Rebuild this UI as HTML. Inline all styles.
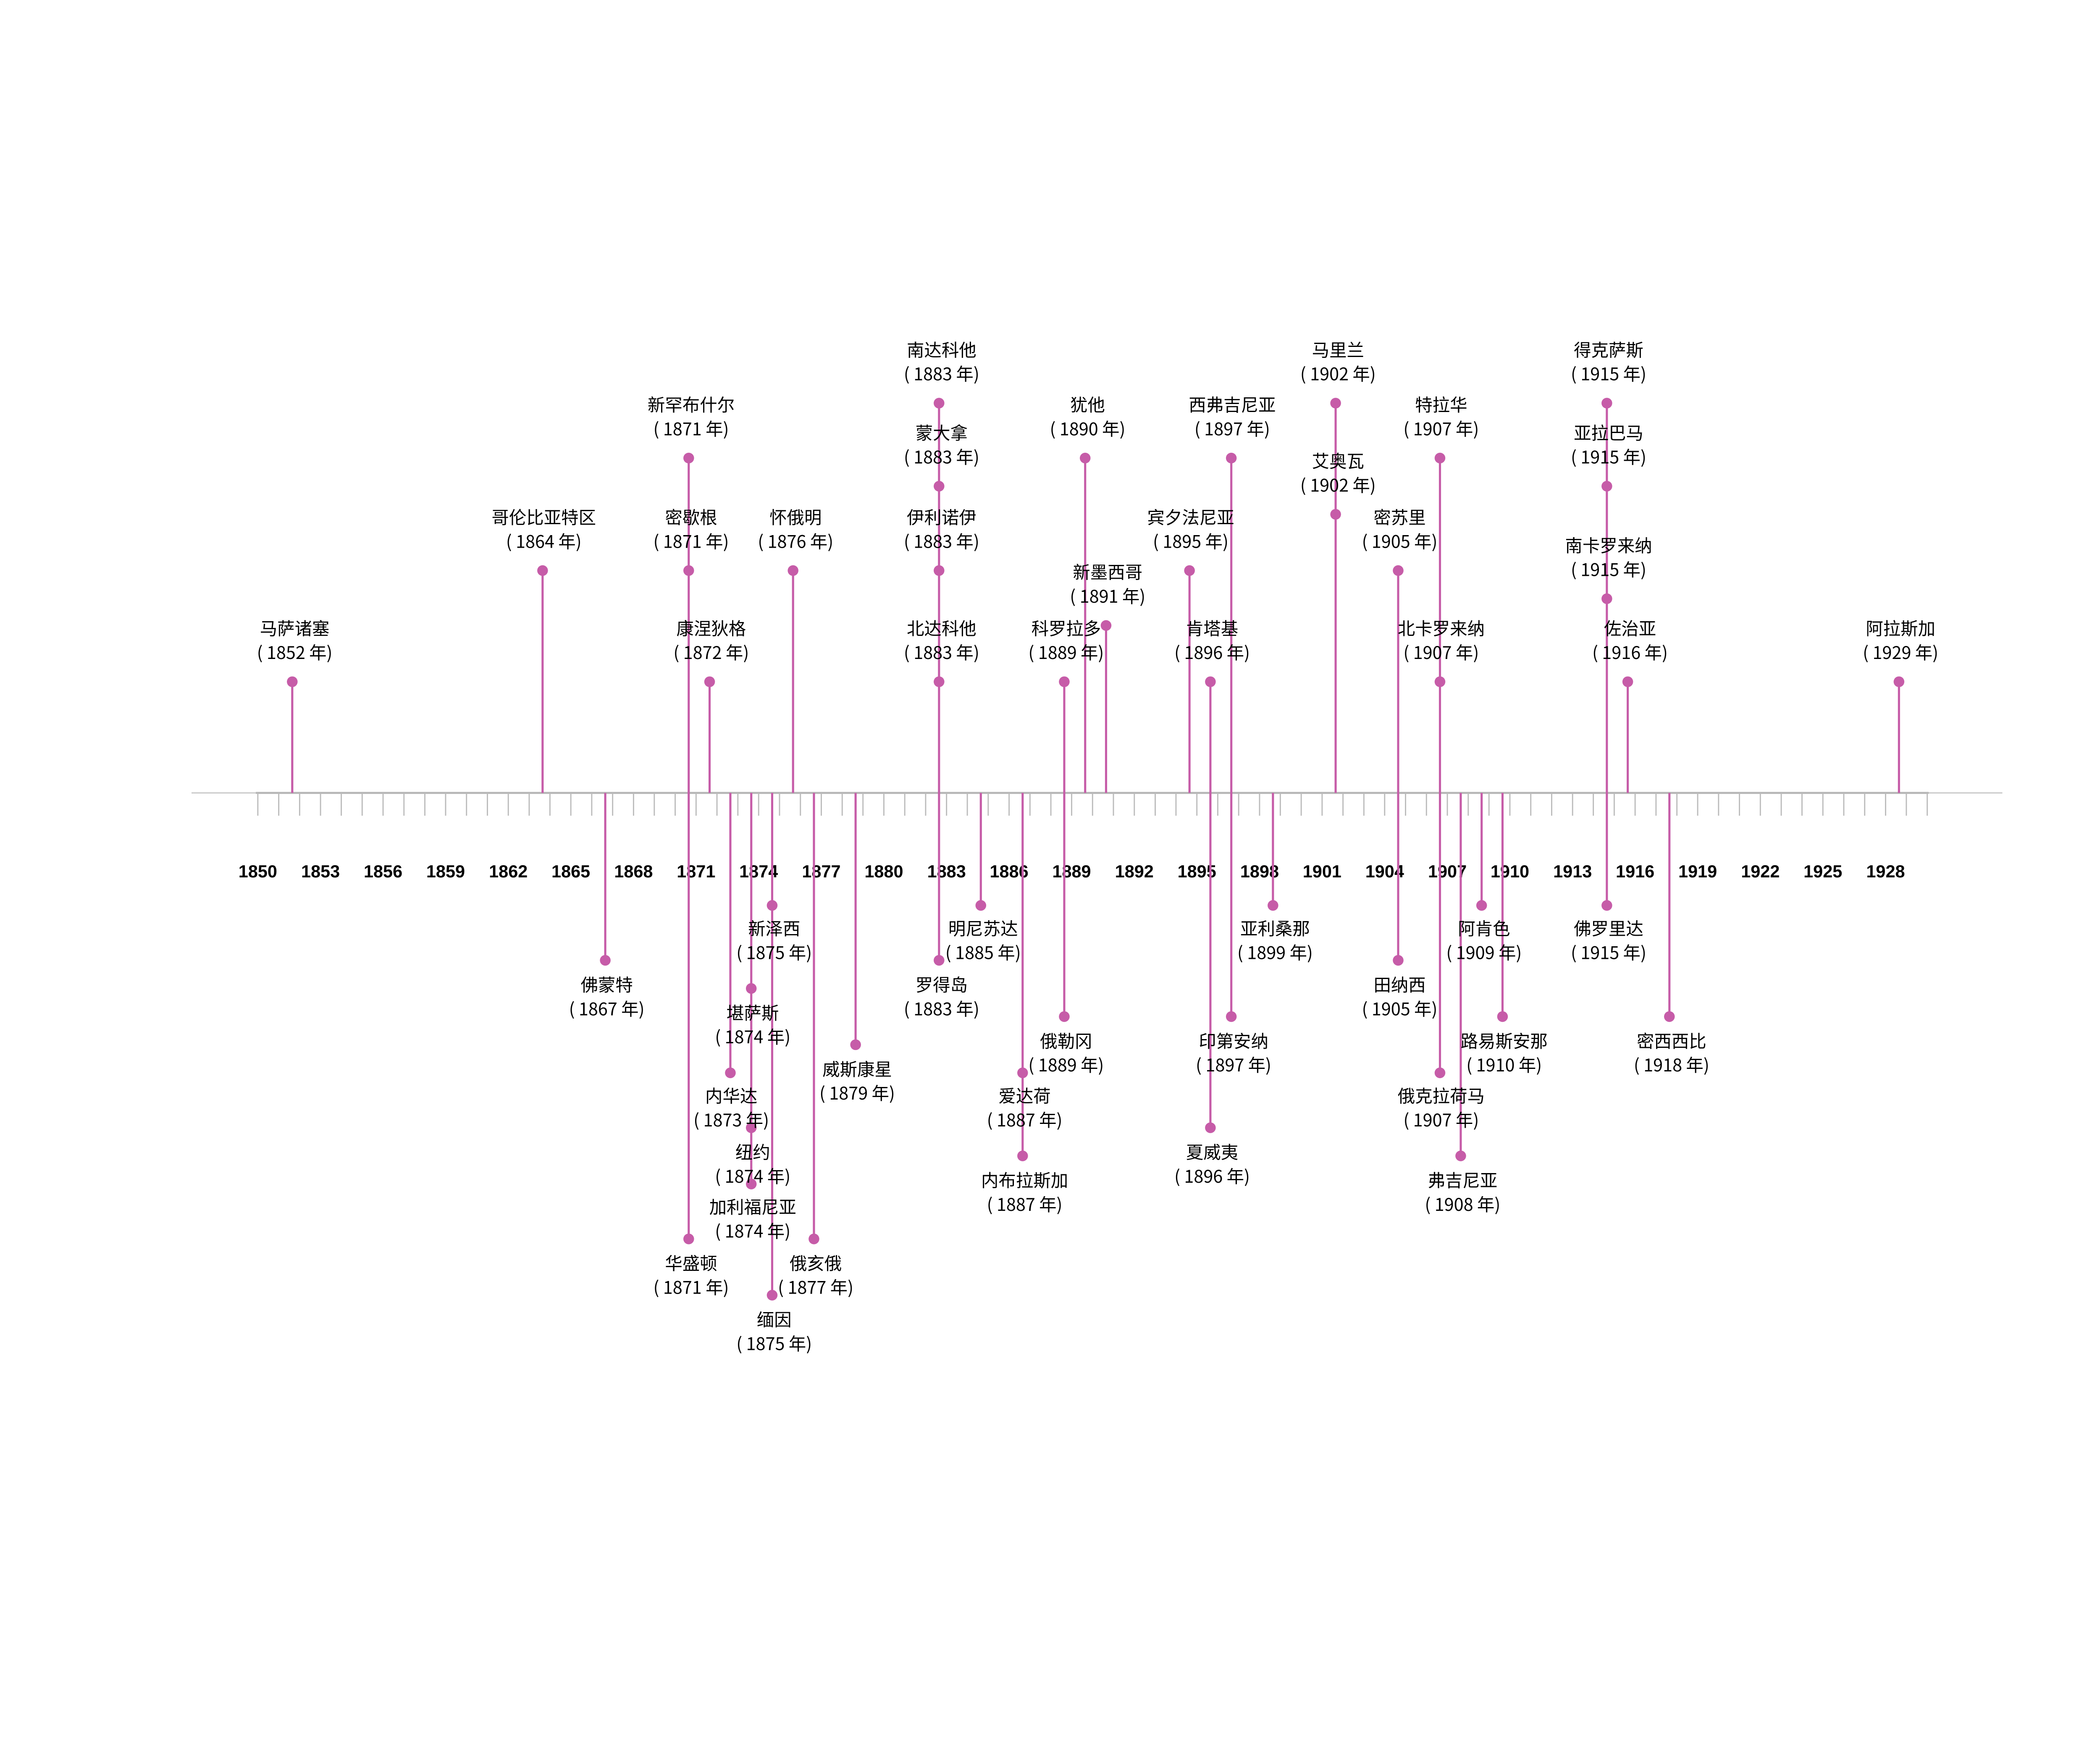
<!DOCTYPE html>
<html><head><meta charset="utf-8"><style>html,body{margin:0;padding:0;background:#fff;width:5400px;height:4200px;overflow:hidden}svg{display:block}</style></head>
<body>
<svg width="5400" height="4200" xmlns="http://www.w3.org/2000/svg">
<rect width="5400" height="4200" fill="#fff"/>
<g transform="scale(3.189)">
<line x1="143" y1="592" x2="1495" y2="592" stroke="#ccc" stroke-width="1"/>
<line x1="191" y1="592" x2="1440" y2="592" stroke="#b5b5b5" stroke-width="1.5"/>
<g stroke="#bbb" stroke-width="0.9">
<path d="M192.5 592v17M208.1 592v17M223.7 592v17M239.3 592v17M254.8 592v17M270.4 592v17M286 592v17M301.6 592v17M317.2 592v17M332.7 592v17M348.3 592v17M363.9 592v17M379.5 592v17M395.1 592v17M410.6 592v17M426.2 592v17M441.8 592v17M457.4 592v17M473 592v17M488.5 592v17M504.1 592v17M519.7 592v17M535.3 592v17M550.9 592v17M566.4 592v17M582 592v17M597.6 592v17M613.2 592v17M628.8 592v17M644.3 592v17M659.9 592v17M675.5 592v17M691.1 592v17M706.7 592v17M722.2 592v17M737.8 592v17M753.4 592v17M769 592v17M784.6 592v17M800.1 592v17M815.7 592v17M831.3 592v17M846.9 592v17M862.5 592v17M878 592v17M893.6 592v17M909.2 592v17M924.8 592v17M940.4 592v17M955.9 592v17M971.5 592v17M987.1 592v17M1002.7 592v17M1018.3 592v17M1033.8 592v17M1049.4 592v17M1065 592v17M1080.6 592v17M1096.2 592v17M1111.7 592v17M1127.3 592v17M1142.9 592v17M1158.5 592v17M1174.1 592v17M1189.6 592v17M1205.2 592v17M1220.8 592v17M1236.4 592v17M1252 592v17M1267.5 592v17M1283.1 592v17M1298.7 592v17M1314.3 592v17M1329.9 592v17M1345.4 592v17M1361 592v17M1376.6 592v17M1392.2 592v17M1407.8 592v17M1423.3 592v17M1438.9 592v17"/>
</g>
<g font-family="Liberation Sans, sans-serif" font-weight="bold" font-size="13" text-anchor="middle" fill="#000">
<text x="192.5" y="655">1850</text><text x="239.3" y="655">1853</text><text x="286" y="655">1856</text><text x="332.7" y="655">1859</text><text x="379.5" y="655">1862</text><text x="426.2" y="655">1865</text><text x="473" y="655">1868</text><text x="519.7" y="655">1871</text><text x="566.4" y="655">1874</text><text x="613.2" y="655">1877</text><text x="659.9" y="655">1880</text><text x="706.7" y="655">1883</text><text x="753.4" y="655">1886</text><text x="800.1" y="655">1889</text><text x="846.9" y="655">1892</text><text x="893.6" y="655">1895</text><text x="940.4" y="655">1898</text><text x="987.1" y="655">1901</text><text x="1033.8" y="655">1904</text><text x="1080.6" y="655">1907</text><text x="1127.3" y="655">1910</text><text x="1174.1" y="655">1913</text><text x="1220.8" y="655">1916</text><text x="1267.5" y="655">1919</text><text x="1314.3" y="655">1922</text><text x="1361" y="655">1925</text><text x="1407.8" y="655">1928</text>
</g>
<g stroke="#c65ca8" stroke-width="1.6">
<path d="M218.2 509V592M405.1 426V592M514.2 342V592M514.2 426V592M529.8 509V592M592.1 426V592M701.1 301V592M794.6 509V592M810.2 342V592M825.8 467V592M888.1 426V592M903.7 509V592M919.3 342V592M997.2 301V592M997.2 384V592M1043.9 426V592M1075.1 342V592M1199.7 301V592M1215.3 509V592M1417.8 509V592"/>
<path d="M451.9 592V717M576.5 592V676M560.9 592V738M545.3 592V801M560.9 592V884M514.2 592V925M576.5 592V967M607.7 592V925M638.8 592V780M732.3 592V676M701.1 592V717M763.5 592V863M794.6 592V759M950.4 592V676M919.3 592V759M903.7 592V842M1043.9 592V717M1106.2 592V676M1121.8 592V759M1075.1 592V801M1090.6 592V863M1199.7 592V676M1246.4 592V759"/>
</g>
<g fill="#c65ca8">
<circle cx="218.2" cy="509" r="4"/><circle cx="405.1" cy="426" r="4"/><circle cx="514.2" cy="342" r="4"/><circle cx="514.2" cy="426" r="4"/><circle cx="529.8" cy="509" r="4"/><circle cx="592.1" cy="426" r="4"/><circle cx="701.1" cy="301" r="4"/><circle cx="701.1" cy="363" r="4"/><circle cx="701.1" cy="426" r="4"/><circle cx="701.1" cy="509" r="4"/><circle cx="794.6" cy="509" r="4"/><circle cx="810.2" cy="342" r="4"/><circle cx="825.8" cy="467" r="4"/><circle cx="888.1" cy="426" r="4"/><circle cx="903.7" cy="509" r="4"/><circle cx="919.3" cy="342" r="4"/><circle cx="997.2" cy="301" r="4"/><circle cx="997.2" cy="384" r="4"/><circle cx="1043.9" cy="426" r="4"/><circle cx="1075.1" cy="342" r="4"/><circle cx="1075.1" cy="509" r="4"/><circle cx="1199.7" cy="301" r="4"/><circle cx="1199.7" cy="363" r="4"/><circle cx="1199.7" cy="447" r="4"/><circle cx="1215.3" cy="509" r="4"/><circle cx="1417.8" cy="509" r="4"/>
<circle cx="451.9" cy="717" r="4"/><circle cx="576.5" cy="676" r="4"/><circle cx="560.9" cy="738" r="4"/><circle cx="545.3" cy="801" r="4"/><circle cx="560.9" cy="842" r="4"/><circle cx="560.9" cy="884" r="4"/><circle cx="514.2" cy="925" r="4"/><circle cx="576.5" cy="967" r="4"/><circle cx="607.7" cy="925" r="4"/><circle cx="638.8" cy="780" r="4"/><circle cx="732.3" cy="676" r="4"/><circle cx="701.1" cy="717" r="4"/><circle cx="763.5" cy="801" r="4"/><circle cx="763.5" cy="863" r="4"/><circle cx="794.6" cy="759" r="4"/><circle cx="950.4" cy="676" r="4"/><circle cx="919.3" cy="759" r="4"/><circle cx="903.7" cy="842" r="4"/><circle cx="1043.9" cy="717" r="4"/><circle cx="1106.2" cy="676" r="4"/><circle cx="1121.8" cy="759" r="4"/><circle cx="1075.1" cy="801" r="4"/><circle cx="1090.6" cy="863" r="4"/><circle cx="1199.7" cy="676" r="4"/><circle cx="1246.4" cy="759" r="4"/>
</g>
<g font-family="'Noto Sans CJK SC', 'Liberation Sans', sans-serif" font-size="13" text-anchor="middle" fill="#000">
<text x="220" y="474">马萨诸塞</text><text x="220" y="492">( 1852 年)</text>
<text x="406" y="391">哥伦比亚特区</text><text x="406" y="409">( 1864 年)</text>
<text x="516" y="307">新罕布什尔</text><text x="516" y="325">( 1871 年)</text>
<text x="516" y="391">密歇根</text><text x="516" y="409">( 1871 年)</text>
<text x="531" y="474">康涅狄格</text><text x="531" y="492">( 1872 年)</text>
<text x="594" y="391">怀俄明</text><text x="594" y="409">( 1876 年)</text>
<text x="703" y="266">南达科他</text><text x="703" y="284">( 1883 年)</text>
<text x="703" y="328">蒙大拿</text><text x="703" y="346">( 1883 年)</text>
<text x="703" y="391">伊利诺伊</text><text x="703" y="409">( 1883 年)</text>
<text x="703" y="474">北达科他</text><text x="703" y="492">( 1883 年)</text>
<text x="796" y="474">科罗拉多</text><text x="796" y="492">( 1889 年)</text>
<text x="812" y="307">犹他</text><text x="812" y="325">( 1890 年)</text>
<text x="827" y="432">新墨西哥</text><text x="827" y="450">( 1891 年)</text>
<text x="889" y="391">宾夕法尼亚</text><text x="889" y="409">( 1895 年)</text>
<text x="905" y="474">肯塔基</text><text x="905" y="492">( 1896 年)</text>
<text x="920" y="307">西弗吉尼亚</text><text x="920" y="325">( 1897 年)</text>
<text x="999" y="266">马里兰</text><text x="999" y="284">( 1902 年)</text>
<text x="999" y="349">艾奥瓦</text><text x="999" y="367">( 1902 年)</text>
<text x="1045" y="391">密苏里</text><text x="1045" y="409">( 1905 年)</text>
<text x="1076" y="307">特拉华</text><text x="1076" y="325">( 1907 年)</text>
<text x="1076" y="474">北卡罗来纳</text><text x="1076" y="492">( 1907 年)</text>
<text x="1201" y="266">得克萨斯</text><text x="1201" y="284">( 1915 年)</text>
<text x="1201" y="328">亚拉巴马</text><text x="1201" y="346">( 1915 年)</text>
<text x="1201" y="412">南卡罗来纳</text><text x="1201" y="430">( 1915 年)</text>
<text x="1217" y="474">佐治亚</text><text x="1217" y="492">( 1916 年)</text>
<text x="1419" y="474">阿拉斯加</text><text x="1419" y="492">( 1929 年)</text>

<text x="453" y="740">佛蒙特</text><text x="453" y="758">( 1867 年)</text>
<text x="578" y="698">新泽西</text><text x="578" y="716">( 1875 年)</text>
<text x="562" y="761">堪萨斯</text><text x="562" y="779">( 1874 年)</text>
<text x="546" y="823">内华达</text><text x="546" y="841">( 1873 年)</text>
<text x="562" y="865">纽约</text><text x="562" y="883">( 1874 年)</text>
<text x="562" y="906">加利福尼亚</text><text x="562" y="924">( 1874 年)</text>
<text x="516" y="948">华盛顿</text><text x="516" y="966">( 1871 年)</text>
<text x="578" y="990">缅因</text><text x="578" y="1008">( 1875 年)</text>
<text x="609" y="948">俄亥俄</text><text x="609" y="966">( 1877 年)</text>
<text x="640" y="803">威斯康星</text><text x="640" y="821">( 1879 年)</text>
<text x="734" y="698">明尼苏达</text><text x="734" y="716">( 1885 年)</text>
<text x="703" y="740">罗得岛</text><text x="703" y="758">( 1883 年)</text>
<text x="765" y="823">爱达荷</text><text x="765" y="841">( 1887 年)</text>
<text x="765" y="886">内布拉斯加</text><text x="765" y="904">( 1887 年)</text>
<text x="796" y="782">俄勒冈</text><text x="796" y="800">( 1889 年)</text>
<text x="952" y="698">亚利桑那</text><text x="952" y="716">( 1899 年)</text>
<text x="921" y="782">印第安纳</text><text x="921" y="800">( 1897 年)</text>
<text x="905" y="865">夏威夷</text><text x="905" y="883">( 1896 年)</text>
<text x="1045" y="740">田纳西</text><text x="1045" y="758">( 1905 年)</text>
<text x="1108" y="698">阿肯色</text><text x="1108" y="716">( 1909 年)</text>
<text x="1123" y="782">路易斯安那</text><text x="1123" y="800">( 1910 年)</text>
<text x="1076" y="823">俄克拉荷马</text><text x="1076" y="841">( 1907 年)</text>
<text x="1092" y="886">弗吉尼亚</text><text x="1092" y="904">( 1908 年)</text>
<text x="1201" y="698">佛罗里达</text><text x="1201" y="716">( 1915 年)</text>
<text x="1248" y="782">密西西比</text><text x="1248" y="800">( 1918 年)</text>
</g>
</g>
</svg>
</body></html>
